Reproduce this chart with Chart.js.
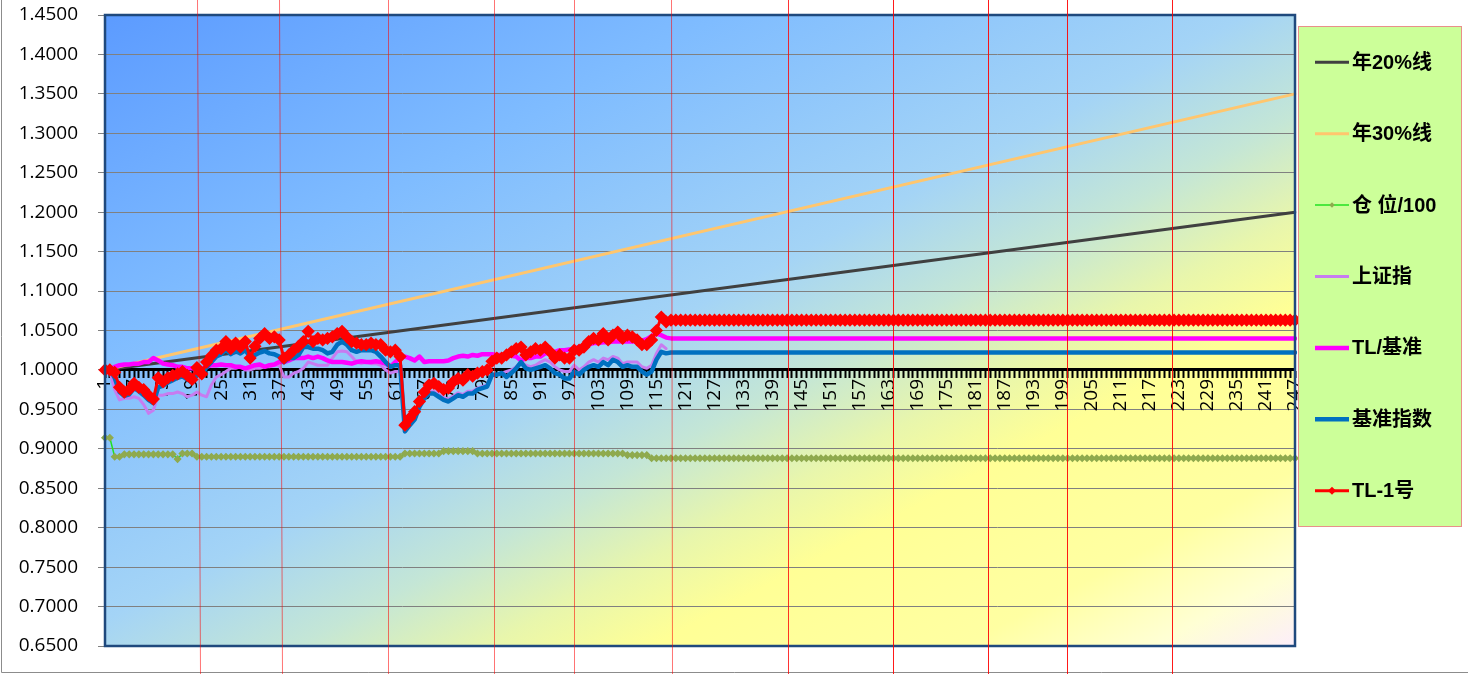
<!DOCTYPE html>
<html>
<head>
<meta charset="utf-8">
<script src="https://cdn.jsdelivr.net/npm/chart.js@4.4.1/dist/chart.umd.min.js"></script>
<style>
  html, body { margin: 0; padding: 0; background: #fff; }
  #chart { display: block; }
</style>
</head>
<body>
<canvas id="chart" width="1468" height="674"></canvas>
<script>
// categories: trading days 1..247
const days = Array.from({ length: 247 }, (_, i) => String(i + 1));

// year lines: only start / end points, the line joins them
const line20 = [{ x: '1', y: 1.000 }, { x: '247', y: 1.200 }];
const line30 = [{ x: '1', y: 1.000 }, { x: '247', y: 1.350 }];

// 仓位/100
const position100 = [
  0.914, 0.914, 0.890, 0.890, 0.893, 0.893, 0.893, 0.893, 0.893, 0.893,
  0.893, 0.893, 0.893, 0.893, 0.893, 0.887, 0.894, 0.894, 0.894, 0.890,
  0.890, 0.890, 0.890, 0.890, 0.890, 0.890, 0.890, 0.890, 0.890, 0.890,
  0.890, 0.890, 0.890, 0.890, 0.890, 0.890, 0.890, 0.890, 0.890, 0.890,
  0.890, 0.890, 0.890, 0.890, 0.890, 0.890, 0.890, 0.890, 0.890, 0.890,
  0.890, 0.890, 0.890, 0.890, 0.890, 0.890, 0.890, 0.890, 0.890, 0.890,
  0.890, 0.890, 0.894, 0.894, 0.894, 0.894, 0.894, 0.894, 0.894, 0.894,
  0.897, 0.897, 0.897, 0.897, 0.897, 0.897, 0.897, 0.894, 0.894, 0.894,
  0.894, 0.894, 0.894, 0.894, 0.894, 0.894, 0.894, 0.894, 0.894, 0.894,
  0.894, 0.894, 0.894, 0.894, 0.894, 0.894, 0.894, 0.894, 0.894, 0.894,
  0.894, 0.894, 0.894, 0.894, 0.894, 0.894, 0.894, 0.894, 0.892, 0.892,
  0.892, 0.892, 0.892, 0.888, 0.888, 0.888, 0.888, 0.888, 0.888, 0.888,
  0.888, 0.888, 0.888, 0.888, 0.888, 0.888, 0.888, 0.888, 0.888, 0.888,
  0.888, 0.888, 0.888, 0.888, 0.888, 0.888, 0.888, 0.888, 0.888, 0.888,
  0.888, 0.888, 0.888, 0.888, 0.888, 0.888, 0.888, 0.888, 0.888, 0.888,
  0.888, 0.888, 0.888, 0.888, 0.888, 0.888, 0.888, 0.888, 0.888, 0.888,
  0.888, 0.888, 0.888, 0.888, 0.888, 0.888, 0.888, 0.888, 0.888, 0.888,
  0.888, 0.888, 0.888, 0.888, 0.888, 0.888, 0.888, 0.888, 0.888, 0.888,
  0.888, 0.888, 0.888, 0.888, 0.888, 0.888, 0.888, 0.888, 0.888, 0.888,
  0.888, 0.888, 0.888, 0.888, 0.888, 0.888, 0.888, 0.888, 0.888, 0.888,
  0.888, 0.888, 0.888, 0.888, 0.888, 0.888, 0.888, 0.888, 0.888, 0.888,
  0.888, 0.888, 0.888, 0.888, 0.888, 0.888, 0.888, 0.888, 0.888, 0.888,
  0.888, 0.888, 0.888, 0.888, 0.888, 0.888, 0.888, 0.888, 0.888, 0.888,
  0.888, 0.888, 0.888, 0.888, 0.888, 0.888, 0.888, 0.888, 0.888, 0.888,
  0.888, 0.888, 0.888, 0.888, 0.888, 0.888, 0.888
];

// 上证指 (stops at day 117)
const shIndex = [
  1.000, 0.998, 0.975, 0.962, 0.964, 0.964, 0.966, 0.964, 0.956, 0.945,
  0.949, 0.968, 0.968, 0.970, 0.970, 0.972, 0.970, 0.966, 0.968, 0.972,
  0.968, 0.966, 0.981, 0.991, 0.994, 0.998, 1.002, 1.002, 1.004, 1.000,
  1.000, 1.002, 1.002, 1.004, 1.004, 1.006, 1.006, 0.991, 0.991, 0.996,
  0.998, 1.002, 1.010, 1.008, 1.006, 1.006, 1.006, 1.015, 1.023, 1.024,
  1.023, 1.017, 1.010, 1.008, 1.010, 1.008, 1.008, 1.006, 1.000, 0.996,
  0.998, 0.998, 0.925, 0.933, 0.940, 0.956, 0.967, 0.973, 0.973, 0.969,
  0.965, 0.963, 0.967, 0.971, 0.969, 0.973, 0.973, 0.977, 0.979, 0.981,
  0.994, 0.994, 0.996, 0.998, 1.000, 1.004, 1.010, 1.006, 1.004, 1.006,
  1.010, 1.013, 1.010, 1.004, 1.000, 0.998, 0.998, 1.006, 1.000, 1.004,
  1.010, 1.013, 1.010, 1.015, 1.013, 1.017, 1.015, 1.008, 1.010, 1.010,
  1.010, 1.004, 1.002, 1.006, 1.021, 1.032, 1.027
];

// TL/基准
const tlRatio = [
  1.000, 1.000, 1.004, 1.006, 1.007, 1.007, 1.008, 1.008, 1.010, 1.010,
  1.015, 1.012, 1.008, 1.007, 1.006, 1.004, 1.004, 1.002, 1.002, 1.001,
  1.002, 1.004, 1.006, 1.006, 1.007, 1.006, 1.006, 1.004, 1.004, 1.002,
  1.004, 1.006, 1.007, 1.004, 1.006, 1.007, 1.010, 1.010, 1.012, 1.015,
  1.015, 1.015, 1.017, 1.015, 1.017, 1.015, 1.012, 1.010, 1.010, 1.010,
  1.009, 1.008, 1.010, 1.011, 1.010, 1.010, 1.011, 1.010, 1.008, 1.004,
  1.010, 1.015, 1.017, 1.015, 1.012, 1.017, 1.010, 1.011, 1.011, 1.011,
  1.011, 1.012, 1.015, 1.017, 1.018, 1.017, 1.019, 1.018, 1.020, 1.020,
  1.020, 1.019, 1.019, 1.018, 1.018, 1.017, 1.012, 1.015, 1.015, 1.017,
  1.017, 1.021, 1.021, 1.023, 1.025, 1.025, 1.026, 1.027, 1.029, 1.029,
  1.032, 1.034, 1.034, 1.035, 1.035, 1.036, 1.036, 1.036, 1.036, 1.036,
  1.036, 1.037, 1.039, 1.043, 1.046, 1.044, 1.041,
  1.040, 1.040, 1.040, 1.040, 1.040, 1.040, 1.040, 1.040, 1.040, 1.040, 1.040, 1.040, 1.040,
  1.040, 1.040, 1.040, 1.040, 1.040, 1.040, 1.040, 1.040, 1.040, 1.040, 1.040, 1.040, 1.040,
  1.040, 1.040, 1.040, 1.040, 1.040, 1.040, 1.040, 1.040, 1.040, 1.040, 1.040, 1.040, 1.040,
  1.040, 1.040, 1.040, 1.040, 1.040, 1.040, 1.040, 1.040, 1.040, 1.040, 1.040, 1.040, 1.040,
  1.040, 1.040, 1.040, 1.040, 1.040, 1.040, 1.040, 1.040, 1.040, 1.040, 1.040, 1.040, 1.040,
  1.040, 1.040, 1.040, 1.040, 1.040, 1.040, 1.040, 1.040, 1.040, 1.040, 1.040, 1.040, 1.040,
  1.040, 1.040, 1.040, 1.040, 1.040, 1.040, 1.040, 1.040, 1.040, 1.040, 1.040, 1.040, 1.040,
  1.040, 1.040, 1.040, 1.040, 1.040, 1.040, 1.040, 1.040, 1.040, 1.040, 1.040, 1.040, 1.040,
  1.040, 1.040, 1.040, 1.040, 1.040, 1.040, 1.040, 1.040, 1.040, 1.040, 1.040, 1.040, 1.040,
  1.040, 1.040, 1.040, 1.040, 1.040, 1.040, 1.040, 1.040, 1.040, 1.040, 1.040, 1.040, 1.040
];

// 基准指数
const benchIndex = [
  1.000, 1.000, 0.990, 0.972, 0.967, 0.969, 0.977, 0.973, 0.968, 0.962,
  0.958, 0.978, 0.980, 0.984, 0.987, 0.990, 0.992, 0.988, 0.984, 0.996,
  0.992, 1.004, 1.010, 1.017, 1.020, 1.026, 1.020, 1.024, 1.021, 1.025,
  1.017, 1.019, 1.022, 1.024, 1.021, 1.020, 1.017, 1.010, 1.015, 1.015,
  1.019, 1.029, 1.029, 1.027, 1.027, 1.025, 1.021, 1.023, 1.032, 1.036,
  1.032, 1.025, 1.023, 1.025, 1.025, 1.025, 1.023, 1.017, 1.010, 1.004,
  1.006, 1.006, 0.922, 0.930, 0.937, 0.953, 0.964, 0.970, 0.970, 0.966,
  0.962, 0.960, 0.964, 0.968, 0.966, 0.970, 0.970, 0.975, 0.977, 0.979,
  0.994, 0.994, 0.996, 0.991, 0.996, 1.002, 1.010, 1.002, 1.000, 1.002,
  1.004, 1.006, 1.002, 0.996, 0.994, 0.989, 0.989, 0.998, 0.994, 1.000,
  1.004, 1.006, 1.004, 1.010, 1.006, 1.013, 1.010, 1.004, 1.006, 1.004,
  1.004, 0.998, 0.994, 0.998, 1.013, 1.023, 1.021,
  1.022, 1.022, 1.022, 1.022, 1.022, 1.022, 1.022, 1.022, 1.022, 1.022, 1.022, 1.022, 1.022,
  1.022, 1.022, 1.022, 1.022, 1.022, 1.022, 1.022, 1.022, 1.022, 1.022, 1.022, 1.022, 1.022,
  1.022, 1.022, 1.022, 1.022, 1.022, 1.022, 1.022, 1.022, 1.022, 1.022, 1.022, 1.022, 1.022,
  1.022, 1.022, 1.022, 1.022, 1.022, 1.022, 1.022, 1.022, 1.022, 1.022, 1.022, 1.022, 1.022,
  1.022, 1.022, 1.022, 1.022, 1.022, 1.022, 1.022, 1.022, 1.022, 1.022, 1.022, 1.022, 1.022,
  1.022, 1.022, 1.022, 1.022, 1.022, 1.022, 1.022, 1.022, 1.022, 1.022, 1.022, 1.022, 1.022,
  1.022, 1.022, 1.022, 1.022, 1.022, 1.022, 1.022, 1.022, 1.022, 1.022, 1.022, 1.022, 1.022,
  1.022, 1.022, 1.022, 1.022, 1.022, 1.022, 1.022, 1.022, 1.022, 1.022, 1.022, 1.022, 1.022,
  1.022, 1.022, 1.022, 1.022, 1.022, 1.022, 1.022, 1.022, 1.022, 1.022, 1.022, 1.022, 1.022,
  1.022, 1.022, 1.022, 1.022, 1.022, 1.022, 1.022, 1.022, 1.022, 1.022, 1.022, 1.022, 1.022
];

// TL-1号
const tl1 = [
  1.000, 1.000, 0.997, 0.978, 0.972, 0.975, 0.983, 0.978, 0.975, 0.968,
  0.963, 0.990, 0.985, 0.990, 0.993, 0.995, 0.998, 0.993, 0.988, 1.003,
  0.995, 1.010, 1.018, 1.025, 1.027, 1.036, 1.027, 1.034, 1.029, 1.036,
  1.015, 1.030, 1.040, 1.046, 1.040, 1.042, 1.038, 1.015, 1.019, 1.025,
  1.030, 1.036, 1.049, 1.036, 1.040, 1.038, 1.040, 1.042, 1.046, 1.049,
  1.042, 1.036, 1.034, 1.032, 1.032, 1.034, 1.032, 1.032, 1.025, 1.023,
  1.025, 1.017, 0.930, 0.939, 0.947, 0.960, 0.972, 0.981, 0.983, 0.979,
  0.975, 0.977, 0.985, 0.989, 0.987, 0.994, 0.992, 0.996, 0.998, 1.000,
  1.011, 1.015, 1.015, 1.019, 1.023, 1.027, 1.029, 1.019, 1.023, 1.027,
  1.025, 1.029, 1.023, 1.015, 1.019, 1.015, 1.015, 1.025, 1.025, 1.029,
  1.036, 1.040, 1.038, 1.046, 1.038, 1.044, 1.048, 1.040, 1.044, 1.042,
  1.038, 1.032, 1.032, 1.038, 1.050, 1.067, 1.061,
  1.063, 1.063, 1.063, 1.063, 1.063, 1.063, 1.063, 1.063, 1.063, 1.063, 1.063, 1.063, 1.063,
  1.063, 1.063, 1.063, 1.063, 1.063, 1.063, 1.063, 1.063, 1.063, 1.063, 1.063, 1.063, 1.063,
  1.063, 1.063, 1.063, 1.063, 1.063, 1.063, 1.063, 1.063, 1.063, 1.063, 1.063, 1.063, 1.063,
  1.063, 1.063, 1.063, 1.063, 1.063, 1.063, 1.063, 1.063, 1.063, 1.063, 1.063, 1.063, 1.063,
  1.063, 1.063, 1.063, 1.063, 1.063, 1.063, 1.063, 1.063, 1.063, 1.063, 1.063, 1.063, 1.063,
  1.063, 1.063, 1.063, 1.063, 1.063, 1.063, 1.063, 1.063, 1.063, 1.063, 1.063, 1.063, 1.063,
  1.063, 1.063, 1.063, 1.063, 1.063, 1.063, 1.063, 1.063, 1.063, 1.063, 1.063, 1.063, 1.063,
  1.063, 1.063, 1.063, 1.063, 1.063, 1.063, 1.063, 1.063, 1.063, 1.063, 1.063, 1.063, 1.063,
  1.063, 1.063, 1.063, 1.063, 1.063, 1.063, 1.063, 1.063, 1.063, 1.063, 1.063, 1.063, 1.063,
  1.063, 1.063, 1.063, 1.063, 1.063, 1.063, 1.063, 1.063, 1.063, 1.063, 1.063, 1.063, 1.063
];

// spreadsheet column borders seen through the chart (page px: top x, bottom x, alpha)
const sheetLines = [
  [197, 200, 0.55], [279, 282, 0.55], [388, 388, 0.55], [494, 494, 0.55],
  [574, 574, 0.55], [671, 672, 0.55], [788, 788, 0.8], [893, 893, 0.9],
  [988, 988, 0.9], [1067, 1067, 0.9], [1172, 1172, 0.9]
];

const TICK_FONT = '"Open Sans", "Liberation Sans", sans-serif';
const LEGEND_FONT = 'bold 20px "Liberation Sans", "Noto Sans CJK SC", sans-serif';

// fond degrade du plot area (bleu -> jaune -> blanc rose)
const plotBg = {
  id: 'plotBg',
  beforeDraw(chart) {
    const { ctx, chartArea: a } = chart;
    const w = a.right - a.left, h = a.bottom - a.top;
    const s = 2 * w * h / (w * w + h * h);
    const g = ctx.createLinearGradient(a.left, a.top, a.left + h * s, a.top + w * s);
    g.addColorStop(0, '#5C9BFF');
    g.addColorStop(0.26, '#7FBCFF');
    g.addColorStop(0.48, '#A4D4F6');
    g.addColorStop(0.58, '#C4E6D6');
    g.addColorStop(0.66, '#E8F6AC');
    g.addColorStop(0.73, '#FFFF96');
    g.addColorStop(0.86, '#FFFFA2');
    g.addColorStop(0.94, '#FFFFD4');
    g.addColorStop(1, '#FCEEFA');
    ctx.save();
    ctx.fillStyle = g;
    ctx.fillRect(a.left, a.top, w, h);
    ctx.restore();
  }
};

// cadre, lignes rouges et legende
const overlay = {
  id: 'overlay',
  afterDraw(chart) {
    const { ctx, chartArea: a } = chart;
    ctx.save();
    // plot border
    ctx.strokeStyle = '#1F497D';
    ctx.lineWidth = 2.5;
    ctx.strokeRect(a.left, a.top, a.right - a.left, a.bottom - a.top);

    // outer frame (left / bottom)
    ctx.strokeStyle = '#8C8C8C';
    ctx.lineWidth = 1;
    ctx.beginPath();
    ctx.moveTo(1.5, 0); ctx.lineTo(1.5, 672.5); ctx.lineTo(chart.width, 672.5);
    ctx.stroke();

    // column borders
    sheetLines.forEach(([x0, x1, al]) => {
      ctx.strokeStyle = `rgba(255,0,0,${al})`;
      ctx.beginPath();
      ctx.moveTo(x0 + 0.5, 0);
      ctx.lineTo(x1 + 0.5, chart.height);
      ctx.stroke();
    });

    // legend box
    const L = 1298.5, T = 26.5, W = 163, H = 500, step = H / 7;
    ctx.fillStyle = '#CCFF99';
    ctx.fillRect(L, T, W, H);
    ctx.strokeStyle = '#E8908A';
    ctx.strokeRect(L, T, W, H);
    ctx.font = LEGEND_FONT;
    ctx.textBaseline = 'middle';
    chart.data.datasets.forEach((ds, i) => {
      const y = T + step / 2 + i * step;
      ctx.strokeStyle = ds.borderColor;
      ctx.lineWidth = ds.borderWidth;
      ctx.beginPath();
      ctx.moveTo(1315, y); ctx.lineTo(1349, y);
      ctx.stroke();
      if (ds.pointRadius > 0) {
        const r = ds.pointRadius * 0.9;
        ctx.fillStyle = ds.pointBackgroundColor;
        ctx.beginPath();
        ctx.moveTo(1332, y - r); ctx.lineTo(1332 + r, y);
        ctx.lineTo(1332, y + r); ctx.lineTo(1332 - r, y);
        ctx.closePath();
        ctx.fill();
      }
      ctx.fillStyle = '#000';
      ctx.fillText(ds.label, 1352, y + 1);
    });
    ctx.restore();
  }
};

const ctx = document.getElementById('chart').getContext('2d');

const chart = new Chart(ctx, {
  type: 'line',
  data: {
    labels: days,
    datasets: [
      { label: '年20%线', data: line20, borderColor: '#404040', borderWidth: 3, pointRadius: 0, order: 6 },
      { label: '年30%线', data: line30, borderColor: '#FFC66E', borderWidth: 3, pointRadius: 0, order: 5 },
      { label: '仓 位/100', data: position100, borderColor: '#22E022', borderWidth: 1.5,
        pointStyle: 'rectRot', pointRadius: 3, pointBackgroundColor: '#8FAA4E', pointBorderColor: '#8FAA4E', order: 4 },
      { label: '上证指', data: shIndex, borderColor: '#C77CF0', borderWidth: 3, pointRadius: 0, order: 3 },
      { label: 'TL/基准', data: tlRatio, borderColor: '#FF00FF', borderWidth: 4.5, pointRadius: 0, order: 2 },
      { label: '基准指数', data: benchIndex, borderColor: '#0070C0', borderWidth: 4.5, pointRadius: 0, order: 1 },
      { label: 'TL-1号', data: tl1, borderColor: '#FF0000', borderWidth: 3,
        pointStyle: 'rectRot', pointRadius: 4.5, pointBackgroundColor: '#FF0000', pointBorderColor: '#FF0000', order: 0 }
    ]
  },
  options: {
    responsive: false,
    animation: false,
    events: [],
    devicePixelRatio: 1,
    layout: { padding: { left: 0, top: 15, right: 173, bottom: 28 } },
    elements: { line: { tension: 0, borderCapStyle: 'round', borderJoinStyle: 'round' } },
    plugins: { legend: { display: false }, tooltip: { enabled: false } },
    scales: {
      x: {
        type: 'category',
        position: { y: 1.0 }, // axe croise a 1.0
        afterFit: (s) => { s.height = 28; s.paddingLeft = 0; s.paddingRight = 0; },
        ticks: {
          autoSkip: false,
          minRotation: 90,
          maxRotation: 90,
          padding: 2,
          color: '#000',
          font: { family: TICK_FONT, size: 19 },
          callback: function (v, i) { return i % 6 === 0 ? this.getLabelForValue(v) : ''; }
        },
        grid: { drawOnChartArea: false, drawTicks: true, tickLength: 7, tickColor: '#000', tickWidth: 2 },
        border: { color: '#000', width: 3 }
      },
      y: {
        min: 0.65,
        max: 1.45,
        afterFit: (s) => { s.width = 105; s.paddingTop = 0; s.paddingBottom = 0; },
        ticks: {
          stepSize: 0.05,
          padding: 20,
          color: '#000',
          font: { family: TICK_FONT, size: 19 },
          callback: (v) => v.toFixed(4)
        },
        grid: { color: '#808080', lineWidth: 1, tickLength: 7 },
        border: { display: false }
      }
    }
  },
  plugins: [plotBg, overlay]
});
</script>
</body>
</html>
